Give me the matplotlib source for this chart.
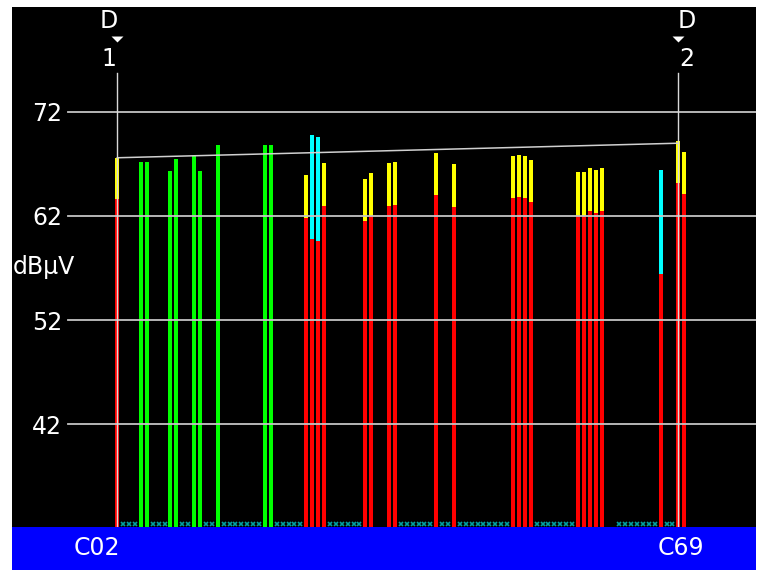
import matplotlib
matplotlib.use("Agg")
import matplotlib.pyplot as plt
import matplotlib.transforms as mtransforms

# ---------------- data ----------------
# channel slot index (0 = C02 marker, 95 = C69 marker)
green_slots = [4, 5, 9, 10, 13, 14, 17, 25, 26]
green_levels = [67.2, 67.2, 66.3, 67.5, 67.8, 66.3, 68.8, 68.8, 68.8]

ry_slots = [0, 32, 35, 42, 43, 46, 47, 54, 57, 67, 68, 69, 70, 78, 79, 80, 81, 82, 95, 96]
ry_red = [63.6, 61.8, 63.0, 61.5, 62.0, 63.0, 63.1, 64.0, 62.9, 63.7, 63.8, 63.7, 63.3,
          62.0, 62.0, 62.5, 62.3, 62.5, 65.2, 64.1]
ry_top = [67.6, 65.9, 67.1, 65.6, 66.1, 67.1, 67.2, 68.1, 67.0, 67.8, 67.9, 67.8, 67.4,
          66.2, 66.2, 66.6, 66.4, 66.6, 69.2, 68.2]

rc_slots = [33, 34, 92]
rc_red = [59.8, 59.6, 56.4]
rc_top = [69.8, 69.6, 66.4]

empty_slots = [1, 2, 3, 6, 7, 8, 11, 12, 15, 16, 18, 19, 20, 21, 22, 23, 24,
               27, 28, 29, 30, 31, 36, 37, 38, 39, 40, 41, 48, 49, 50, 51, 52, 53,
               55, 56, 58, 59, 60, 61, 62, 63, 64, 65, 66, 71, 72, 73, 74, 75, 76, 77,
               85, 86, 87, 88, 89, 90, 91, 93, 94]

marker_slots = [0, 95]
marker_names = ["1", "2"]
ref_line_levels = [67.6, 69.0]

y_ticks = [42, 52, 62, 72]
y_unit = "dBμV"
x_labels = ["C02", "C69"]

# ---------------- layout ----------------
W, H = 758, 570
fig = plt.figure(figsize=(W / 100, H / 100), dpi=100, facecolor="white")

left_px, right_px, top_px, plot_bottom_px = 12, 756, 7, 527
ax = fig.add_axes([left_px / W, (H - plot_bottom_px) / H,
                   (right_px - left_px) / W, (plot_bottom_px - top_px) / H])
ax.set_facecolor("black")

slot0_px, slot_w = 117.3, 5.906
px_per_db = 10.4
ymin = 42 - (plot_bottom_px - 424) / px_per_db
ymax = 72 + (112 - top_px) / px_per_db
xmin = (left_px - slot0_px) / slot_w
xmax = (right_px - slot0_px) / slot_w
ax.set_xlim(xmin, xmax)
ax.set_ylim(ymin, ymax)

for s in ax.spines.values():
    s.set_visible(False)
ax.set_xticks([])

font = "DejaVu Sans"
fs = 17

# y tick labels inside the plot
ax.set_yticks(y_ticks)
ax.set_yticklabels([str(v) for v in y_ticks])
ax.tick_params(axis="y", length=0, pad=-36, labelcolor="white", labelsize=fs)
for lab in ax.get_yticklabels():
    lab.set_horizontalalignment("right")
    lab.set_fontfamily(font)

# grid lines
grid_start = (68 - left_px) / (right_px - left_px)
for v in y_ticks:
    ax.axhline(v, xmin=grid_start, xmax=1, color="#c4c4c4", lw=1.3, zorder=4)

bw = 4.0 / slot_w
# green bars
ax.bar(green_slots, [g - ymin for g in green_levels], bottom=ymin, width=bw,
       color="#00ff00", lw=0, zorder=2)
# red/yellow bars
ax.bar(ry_slots, [r - ymin for r in ry_red], bottom=ymin, width=bw,
       color="#ff0000", lw=0, zorder=2)
ax.bar(ry_slots, [t - r for t, r in zip(ry_top, ry_red)], bottom=ry_red, width=bw,
       color="#ffff00", lw=0, zorder=2)
# red/cyan bars
ax.bar(rc_slots, [r - ymin for r in rc_red], bottom=ymin, width=bw,
       color="#ff0000", lw=0, zorder=2)
ax.bar(rc_slots, [t - r for t, r in zip(rc_top, rc_red)], bottom=rc_red, width=bw,
       color="#00ffff", lw=0, zorder=2)

# empty-channel crosses
x_y = 42 - (524 - 424) / px_per_db
ax.plot(empty_slots, [x_y] * len(empty_slots), ls="none", marker="x",
        ms=3.2, mew=1.2, color="#00a0a0", zorder=3, clip_on=False)

# reference line between markers
ax.plot(marker_slots, ref_line_levels, color="#d0d0d0", lw=1.1, zorder=5)

# markers
line_top = 72 + (112 - 73) / px_per_db
tri_y = 72 + (112 - 39) / px_per_db
d_y = 72 + (112 - 21.5) / px_per_db
n_y = 72 + (112 - 59) / px_per_db
label_offsets = [-1.5, 1.4]
tri = [(-1, 0.5), (1, 0.5), (0, -0.5)]
for ms_, name, off in zip(marker_slots, marker_names, label_offsets):
    ax.plot([ms_, ms_], [ymin, line_top], color="#d8d8d8", lw=1.0, zorder=6)
    ax.plot([ms_], [tri_y], marker=tri, ms=8.6, color="white", mew=0, zorder=6)
    ax.text(ms_ + off, d_y, "D", color="white", fontsize=fs, family=font,
            ha="center", va="center", zorder=7)
    ax.text(ms_ + off, n_y, name, color="white", fontsize=fs, family=font,
            ha="center", va="center", zorder=7)

# unit label
ax.text(0.0015, 0.5, y_unit, transform=ax.transAxes, color="white", fontsize=fs,
        family=font, ha="left", va="center")

# bottom blue band
ax2 = fig.add_axes([left_px / W, 0, (right_px - left_px) / W, (H - plot_bottom_px) / H])
ax2.set_facecolor("#0000ff")
ax2.set_xlim(xmin, xmax)
ax2.set_ylim(0, 1)
ax2.set_xticks([])
ax2.set_yticks([])
for s in ax2.spines.values():
    s.set_visible(False)
label_pos = [-3.45, 95.4]
for lp, lab in zip(label_pos, x_labels):
    ax2.text(lp, 0.52, lab, color="white", fontsize=fs, family=font,
             ha="center", va="center")

fig.savefig("out.png", dpi=100, facecolor="white")
